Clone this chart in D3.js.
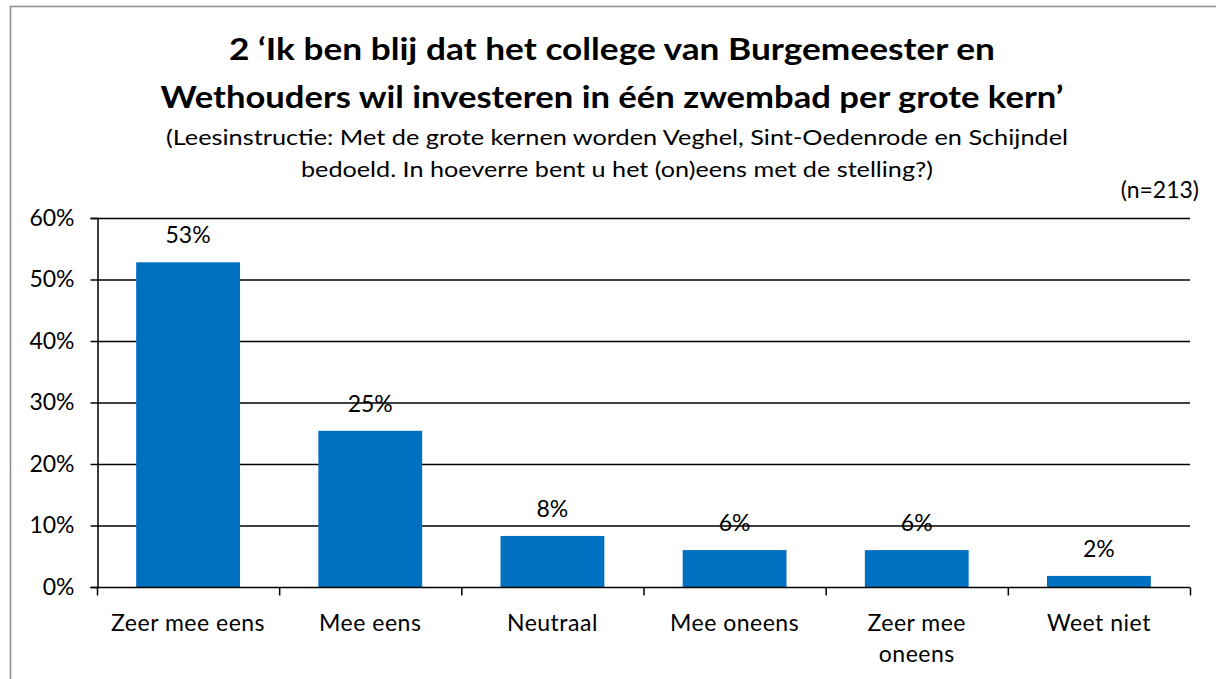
<!DOCTYPE html>
<html>
<head>
<meta charset="utf-8">
<script src="https://cdn.jsdelivr.net/npm/d3@7"></script>
<style>
  body { margin: 0; background: #fff; }
  svg text { font-family: Lato, "Open Sans", sans-serif; fill: #000; }
</style>
</head>
<body>
<div id="chart"></div>
<script>
const categories = ["Zeer mee eens", "Mee eens", "Neutraal", "Mee oneens", "Zeer mee oneens", "Weet niet"];
const values = [52.8, 25.4, 8.3, 6.0, 6.0, 1.8];
const valueLabels = ["53%", "25%", "8%", "6%", "6%", "2%"];
const yTicks = [0, 10, 20, 30, 40, 50, 60];

const W = 1216, H = 679;
const m = {left: 97, right: 1190, top: 218, bottom: 587};
const labelSize = 23;

const svg = d3.select("#chart").append("svg")
    .attr("width", W).attr("height", H);

// outer frame
svg.append("rect")
    .attr("x", 10.5).attr("y", 6.5)
    .attr("width", 1220).attr("height", 700)
    .attr("fill", "none").attr("stroke", "#8c8c8c").attr("stroke-width", 1.5);

// titles
const titleLines = [
  {t: "2 \u2018Ik ben blij dat het college van Burgemeester en", y: 60, len: 766, size: 30, bold: true},
  {t: "Wethouders wil investeren in \u00e9\u00e9n zwembad per grote kern\u2019", y: 108, len: 903, size: 30, bold: true},
  {t: "(Leesinstructie: Met de grote kernen worden Veghel, Sint-Oedenrode en Schijndel", y: 145, len: 902, size: 22, bold: false},
  {t: "bedoeld. In hoeverre bent u het (on)eens met de stelling?)", y: 177, len: 632, size: 22, bold: false}
];
titleLines.forEach(d => {
  svg.append("text")
    .attr("x", (d.bold ? 612 : 617)).attr("y", d.y)
    .attr("text-anchor", "middle")
    .attr("font-size", d.size)
    .attr("font-weight", d.bold ? "bold" : "normal")
    .attr("textLength", d.len)
    .attr("lengthAdjust", "spacingAndGlyphs")
    .text(d.t);
});

svg.append("text")
    .attr("x", 1199).attr("y", 198)
    .attr("text-anchor", "end")
    .attr("font-size", labelSize)
    .text("(n=213)");

const x = d3.scaleBand().domain(categories).range([m.left, m.right]).paddingInner(0.43).paddingOuter(0.215);
const xb = d3.scaleBand().domain(categories).range([m.left, m.right]);
const y = d3.scaleLinear().domain([0, 60]).range([m.bottom, m.top]);

// gridlines
svg.append("g").selectAll("line").data(yTicks.slice(1)).join("line")
    .attr("x1", m.left).attr("x2", m.right)
    .attr("y1", d => y(d) + 0.5).attr("y2", d => y(d) + 0.5)
    .attr("stroke", "#000").attr("stroke-width", 1.5);

// bars
svg.append("g").selectAll("rect").data(values).join("rect")
    .attr("x", (d, i) => x(categories[i]))
    .attr("width", x.bandwidth())
    .attr("y", d => y(d))
    .attr("height", d => y(0) - y(d))
    .attr("fill", "#0070c0");

// value labels
svg.append("g").selectAll("text").data(values).join("text")
    .attr("x", (d, i) => x(categories[i]) + x.bandwidth() / 2)
    .attr("y", d => y(d) - 19)
    .attr("text-anchor", "middle")
    .attr("font-size", labelSize)
    .text((d, i) => valueLabels[i]);

// y axis
const yAxis = svg.append("g")
    .attr("transform", `translate(${m.left + 0.5},0)`)
    .call(d3.axisLeft(y).tickValues(yTicks).tickFormat(d => d + "%").tickSize(7).tickPadding(16));
yAxis.selectAll("path, line").attr("stroke", "#000").attr("stroke-width", 1.5);
yAxis.selectAll("text").attr("font-size", labelSize).attr("font-family", "Lato, sans-serif").attr("fill", "#000");

// x axis
const xAxis = svg.append("g")
    .attr("transform", `translate(0,${m.bottom + 0.5})`);
xAxis.append("line")
    .attr("x1", m.left).attr("x2", m.right)
    .attr("stroke", "#000").attr("stroke-width", 1.5);
const bounds = categories.map(c => xb(c)).concat([m.right]);
xAxis.selectAll("line.tick").data(bounds).join("line")
    .attr("class", "tick")
    .attr("x1", d => d + 0.5).attr("x2", d => d + 0.5)
    .attr("y1", 0).attr("y2", 8)
    .attr("stroke", "#000").attr("stroke-width", 1.5);

const labelLines = {"Zeer mee oneens": ["Zeer mee", "oneens"]};
categories.forEach(c => {
  const lines = labelLines[c] || [c];
  const t = xAxis.append("text")
      .attr("x", xb(c) + xb.bandwidth() / 2)
      .attr("y", 43)
      .attr("text-anchor", "middle")
      .attr("font-size", labelSize)
      .attr("letter-spacing", 0.5);
  lines.forEach((l, i) => {
    t.append("tspan").attr("x", xb(c) + xb.bandwidth() / 2).attr("dy", i === 0 ? 0 : 31).text(l);
  });
});
</script>
</body>
</html>
